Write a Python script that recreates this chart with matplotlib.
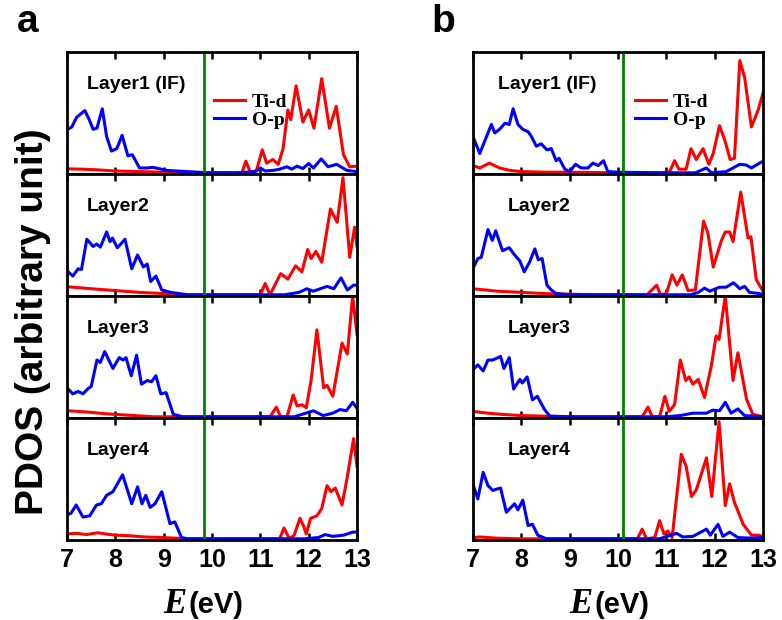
import matplotlib
matplotlib.use("Agg")
import matplotlib.pyplot as plt

# energy axis
x_ticks = [7, 8, 9, 10, 11, 12, 13]
fermi_a = 9.83
fermi_b = 10.1
layer_names = ["Layer1 (IF)", "Layer2", "Layer3", "Layer4"]

# ---- panel a ----
a1_op_x = [7.0, 7.1, 7.2, 7.37, 7.46, 7.54, 7.62, 7.73, 7.82, 7.92, 8.03, 8.14, 8.26, 8.35, 8.5, 8.65, 8.78, 9.06, 9.47, 9.9,
           10.5, 10.9, 11.0, 11.1, 11.27, 11.4, 11.55, 11.65, 11.76, 11.88, 12.0, 12.1, 12.26, 12.4, 12.58, 12.79, 13.0]
a1_op_y = [0.356, 0.38, 0.46, 0.515, 0.44, 0.36, 0.37, 0.53, 0.3, 0.18, 0.2, 0.31, 0.14, 0.15, 0.04, 0.04, 0.045, 0.02, 0.01, 0.0,
           0.0, 0.01, 0.04, 0.015, 0.02, 0.03, 0.05, 0.03, 0.055, 0.035, 0.077, 0.04, 0.115, 0.05, 0.07, 0.02, 0.01]
a1_td_x = [7.0, 7.3, 7.6, 8.0, 8.5, 9.0, 10.5, 10.62, 10.7, 10.8, 10.92, 11.04, 11.13, 11.26, 11.37, 11.47, 11.57, 11.63,
           11.74, 11.88, 12.0, 12.11, 12.27, 12.43, 12.57, 12.72, 12.85, 13.0]
a1_td_y = [0.033, 0.03, 0.025, 0.015, 0.01, 0.005, 0.0, 0.0, 0.096, 0.0, 0.02, 0.19, 0.08, 0.11, 0.07, 0.2, 0.52, 0.44,
           0.72, 0.42, 0.52, 0.37, 0.78, 0.37, 0.55, 0.15, 0.05, 0.055]

a2_op_x = [7.0, 7.12, 7.23, 7.3, 7.41, 7.54, 7.61, 7.69, 7.82, 7.89, 7.94, 8.04, 8.09, 8.2, 8.34, 8.46, 8.58, 8.66, 8.73, 8.84,
           8.96, 9.14, 9.5, 11.5, 11.8, 11.96, 12.1, 12.38, 12.52, 12.67, 12.8, 12.93, 13.0]
a2_op_y = [0.2, 0.155, 0.215, 0.21, 0.46, 0.40, 0.42, 0.395, 0.52, 0.44, 0.47, 0.39, 0.41, 0.46, 0.215, 0.33, 0.23, 0.255, 0.11, 0.155,
           0.04, 0.02, 0.0, 0.0, 0.02, 0.05, 0.03, 0.07, 0.05, 0.14, 0.04, 0.08, 0.08]
a2_td_x = [7.0, 7.5, 8.0, 8.5, 9.0, 9.5, 11.0, 11.1, 11.2, 11.42, 11.57, 11.73, 11.86, 11.98, 12.05, 12.15, 12.27, 12.45,
           12.59, 12.71, 12.85, 12.95, 13.0]
a2_td_y = [0.067, 0.05, 0.035, 0.02, 0.01, 0.0, 0.0, 0.094, 0.0, 0.175, 0.13, 0.24, 0.19, 0.375, 0.3, 0.36, 0.27, 0.71,
           0.6, 0.97, 0.31, 0.56, 0.4]

a3_op_x = [7.0, 7.12, 7.23, 7.33, 7.44, 7.5, 7.62, 7.69, 7.78, 7.95, 8.08, 8.16, 8.22, 8.33, 8.44, 8.54, 8.66, 8.75, 8.84, 8.94,
           9.05, 9.2, 9.4, 11.7, 12.1, 12.3, 12.5, 12.65, 12.78, 12.91, 13.0]
a3_op_y = [0.24, 0.19, 0.21, 0.19, 0.235, 0.25, 0.47, 0.45, 0.54, 0.40, 0.49, 0.47, 0.49, 0.34, 0.51, 0.27, 0.30, 0.29, 0.34, 0.19,
           0.2, 0.02, 0.0, 0.0, 0.05, 0.01, 0.03, 0.06, 0.05, 0.12, 0.07]
a3_td_x = [7.0, 7.4, 7.8, 8.4, 8.8, 11.2, 11.33, 11.42, 11.55, 11.68, 11.76, 11.86, 11.95, 12.05, 12.17, 12.31, 12.38, 12.5,
           12.69, 12.8, 12.91, 13.0]
a3_td_y = [0.05, 0.04, 0.025, 0.01, 0.0, 0.0, 0.08, 0.0, 0.0, 0.18, 0.09, 0.1, 0.075, 0.3, 0.72, 0.24, 0.26, 0.17,
           0.61, 0.52, 1.0, 0.68]

a4_op_x = [7.0, 7.08, 7.19, 7.33, 7.47, 7.61, 7.71, 7.82, 7.95, 8.15, 8.34, 8.46, 8.55, 8.63, 8.72, 8.82, 8.96, 9.05, 9.13, 9.23,
           9.37, 9.5, 11.9, 12.2, 12.34, 12.5, 12.72, 12.91, 13.0]
a4_op_y = [0.2, 0.21, 0.28, 0.18, 0.19, 0.28, 0.29, 0.36, 0.39, 0.53, 0.29, 0.43, 0.29, 0.36, 0.26, 0.29, 0.39, 0.25, 0.125, 0.14,
           0.01, 0.0, 0.0, 0.01, 0.035, 0.02, 0.03, 0.055, 0.055]
a4_td_x = [7.0, 7.2, 7.4, 7.64, 7.8, 8.0, 8.3, 8.6, 9.0, 9.5, 11.4, 11.49, 11.6, 11.7, 11.82, 11.9, 11.95, 12.04, 12.17,
           12.27, 12.38, 12.46, 12.55, 12.69, 12.79, 12.93, 13.0]
a4_td_y = [0.04, 0.045, 0.035, 0.05, 0.04, 0.03, 0.025, 0.015, 0.01, 0.0, 0.0, 0.09, 0.0, 0.03, 0.17, 0.1, 0.04, 0.17, 0.19,
           0.25, 0.44, 0.39, 0.42, 0.28, 0.49, 0.83, 0.6]

# ---- panel b ----
b1_op_x = [7.0, 7.14, 7.28, 7.38, 7.45, 7.55, 7.66, 7.75, 7.83, 7.93, 8.03, 8.14, 8.21, 8.31, 8.41, 8.53, 8.62, 8.72, 8.78, 8.9,
           9.0, 9.12, 9.24, 9.38, 9.48, 9.59, 9.7, 9.79, 10.0, 10.9, 11.6, 11.83, 11.93, 12.24, 12.52, 12.65, 12.76, 12.97, 13.0]
b1_op_y = [0.3, 0.16, 0.3, 0.4, 0.33, 0.36, 0.41, 0.40, 0.53, 0.4, 0.36, 0.34, 0.3, 0.22, 0.24, 0.19, 0.2, 0.1, 0.12, 0.03,
           0.01, 0.07, 0.04, 0.04, 0.08, 0.06, 0.1, 0.01, 0.005, 0.0, 0.0, 0.04, 0.0, 0.01, 0.07, 0.065, 0.04, 0.09, 0.09]
b1_td_x = [7.0, 7.14, 7.34, 7.55, 7.76, 8.0, 8.5, 9.0, 10.0, 10.9, 11.07, 11.17, 11.26, 11.41, 11.51, 11.62, 11.76, 11.88,
           11.97, 12.1, 12.21, 12.32, 12.41, 12.52, 12.62, 12.76, 12.9, 13.0]
b1_td_y = [0.06, 0.04, 0.08, 0.04, 0.02, 0.01, 0.005, 0.005, 0.0, 0.0, 0.01, 0.1, 0.03, 0.03, 0.2, 0.11, 0.2, 0.07,
           0.16, 0.39, 0.27, 0.11, 0.12, 0.93, 0.79, 0.38, 0.52, 0.66]

b2_op_x = [7.0, 7.1, 7.17, 7.31, 7.4, 7.47, 7.61, 7.75, 7.86, 7.97, 8.06, 8.17, 8.28, 8.35, 8.43, 8.53, 8.62, 8.72, 9.0,
           11.5, 11.66, 11.79, 11.9, 12.1, 12.24, 12.39, 12.52, 12.62, 12.72, 12.93, 13.0]
b2_op_y = [0.22, 0.3, 0.31, 0.54, 0.45, 0.53, 0.365, 0.39, 0.33, 0.28, 0.19, 0.27, 0.38, 0.29, 0.3, 0.08, 0.04, 0.01, 0.0,
           0.0, 0.02, 0.055, 0.03, 0.063, 0.063, 0.1, 0.05, 0.07, 0.02, 0.01, 0.0]
b2_td_x = [7.0, 7.5, 8.0, 8.5, 9.0, 9.5, 10.6, 10.8, 10.88, 11.0, 11.12, 11.22, 11.33, 11.45, 11.6, 11.77, 11.86, 11.97,
           12.14, 12.22, 12.31, 12.38, 12.54, 12.69, 12.75, 12.86, 13.0]
b2_td_y = [0.05, 0.03, 0.02, 0.01, 0.005, 0.0, 0.0, 0.08, 0.0, 0.01, 0.165, 0.08, 0.165, 0.035, 0.04, 0.61, 0.51, 0.23,
           0.45, 0.52, 0.52, 0.44, 0.85, 0.47, 0.48, 0.125, 0.03]

b3_op_x = [7.0, 7.1, 7.21, 7.31, 7.41, 7.57, 7.64, 7.75, 7.84, 7.97, 8.02, 8.12, 8.23, 8.33, 8.48, 8.59, 9.0, 11.0, 11.28,
           11.55, 11.83, 11.96, 12.1, 12.22, 12.34, 12.48, 12.62, 13.0]
b3_op_y = [0.39, 0.43, 0.38, 0.47, 0.47, 0.5, 0.4, 0.49, 0.23, 0.31, 0.28, 0.33, 0.14, 0.17, 0.06, 0.005, 0.0, 0.0, 0.01,
           0.03, 0.03, 0.055, 0.05, 0.12, 0.03, 0.065, 0.01, 0.0]
b3_td_x = [7.0, 7.3, 7.6, 8.0, 8.5, 9.0, 10.5, 10.62, 10.71, 10.86, 10.97, 11.06, 11.17, 11.29, 11.4, 11.47, 11.55, 11.66,
           11.79, 11.93, 12.03, 12.09, 12.22, 12.38, 12.48, 12.66, 12.79, 13.0]
b3_td_y = [0.045, 0.03, 0.02, 0.01, 0.005, 0.0, 0.0, 0.08, 0.0, 0.0, 0.17, 0.045, 0.1, 0.47, 0.3, 0.33, 0.27, 0.31,
           0.16, 0.42, 0.67, 0.64, 1.0, 0.3, 0.53, 0.145, 0.02, 0.0]

b4_op_x = [7.0, 7.1, 7.21, 7.31, 7.41, 7.48, 7.57, 7.69, 7.86, 7.93, 8.03, 8.14, 8.23, 8.34, 8.52, 10.86, 11.21, 11.34,
           11.55, 11.83, 11.91, 12.07, 12.17, 12.31, 12.48, 12.79, 13.0]
b4_op_y = [0.45, 0.33, 0.55, 0.44, 0.4, 0.41, 0.42, 0.22, 0.29, 0.24, 0.32, 0.11, 0.12, 0.03, 0.0, 0.0, 0.045, 0.015,
           0.02, 0.08, 0.03, 0.12, 0.02, 0.055, 0.01, 0.005, 0.01]
b4_td_x = [7.0, 7.14, 7.5, 8.0, 10.4, 10.5, 10.59, 10.76, 10.86, 10.95, 11.03, 11.12, 11.31, 11.41, 11.52, 11.62, 11.83,
           11.94, 12.09, 12.22, 12.31, 12.41, 12.59, 12.76, 12.9, 13.0]
b4_td_y = [0.01, 0.015, 0.005, 0.0, 0.0, 0.08, 0.0, 0.01, 0.15, 0.04, 0.065, 0.01, 0.7, 0.6, 0.35, 0.405, 0.67,
           0.35, 0.97, 0.275, 0.455, 0.3, 0.12, 0.03, 0.03, 0.02]

panel_a = [(a1_td_x, a1_td_y, a1_op_x, a1_op_y), (a2_td_x, a2_td_y, a2_op_x, a2_op_y),
           (a3_td_x, a3_td_y, a3_op_x, a3_op_y), (a4_td_x, a4_td_y, a4_op_x, a4_op_y)]
panel_b = [(b1_td_x, b1_td_y, b1_op_x, b1_op_y), (b2_td_x, b2_td_y, b2_op_x, b2_op_y),
           (b3_td_x, b3_td_y, b3_op_x, b3_op_y), (b4_td_x, b4_td_y, b4_op_x, b4_op_y)]

sans = "Liberation Sans"
serif = "Liberation Serif"

fig = plt.figure(figsize=(7.82, 6.2), dpi=100)
W, H = 782.0, 620.0
row_tops = [52, 174, 296, 418]
row_h = 122


def draw_panel(x0, rows, fermi, text_x, leg_x):
    for i, (tdx, tdy, opx, opy) in enumerate(rows):
        ax = fig.add_axes([x0 / W, 1 - (row_tops[i] + row_h) / H, 290 / W, row_h / H])
        ax.plot(tdx, tdy, color="#ff0000", lw=2.2, label="Ti-d")
        ax.plot(opx, opy, color="#0000ff", lw=2.2, label="O-p")
        ax.axvline(fermi, color="#008000", lw=2)
        ax.set_xlim(7, 13)
        ax.set_ylim(-0.01, 1.0)
        ax.set_yticks([])
        ax.set_xticks(x_ticks)
        ax.tick_params(axis="x", direction="in", top=True, bottom=True, length=5, width=1.8,
                       labelsize=18, pad=6)
        for s in ax.spines.values():
            s.set_linewidth(2)
        tx = text_x[0] if i == 0 else text_x[1]
        ax.text(tx, 0.73, layer_names[i], transform=ax.transAxes, fontsize=14,
                fontweight="bold", family=sans, va="center", ha="left")
        if i == 0:
            ax.legend(loc="center left", bbox_to_anchor=(leg_x, 0.515), frameon=False,
                      borderpad=0, borderaxespad=0, labelspacing=0.0, handlelength=1.6,
                      handletextpad=0.35, prop={"family": serif, "weight": "bold", "size": 14})
        if i < 3:
            ax.set_xticklabels([])
        else:
            for lab in ax.get_xticklabels():
                lab.set_fontweight("bold")
                lab.set_family(sans)


draw_panel(67, panel_a, fermi_a, (0.069, 0.069), 0.507)
draw_panel(473, panel_b, fermi_b, (0.086, 0.12), 0.559)

# axis labels
for cx in [186.0, 592.0]:
    fig.text(cx / W, 1 - 613 / H, "E", fontsize=25, style="italic", fontweight="bold",
             family=serif, ha="right", va="baseline")
    fig.text((cx + 3) / W, 1 - 613 / H, "(eV)", fontsize=21, fontweight="bold", family=sans,
             ha="left", va="baseline")

fig.text(33 / W, 1 - 322 / H, "PDOS (arbitrary unit)", rotation=90, fontsize=28,
         fontweight="bold", family=sans, ha="center", va="center")
fig.text(28 / W, 1 - 22 / H, "a", fontsize=28, fontweight="bold", family=sans, ha="center", va="center")
fig.text(443 / W, 1 - 22 / H, "b", fontsize=28, fontweight="bold", family=sans, ha="center", va="center")

fig.savefig("out.png", dpi=100)
